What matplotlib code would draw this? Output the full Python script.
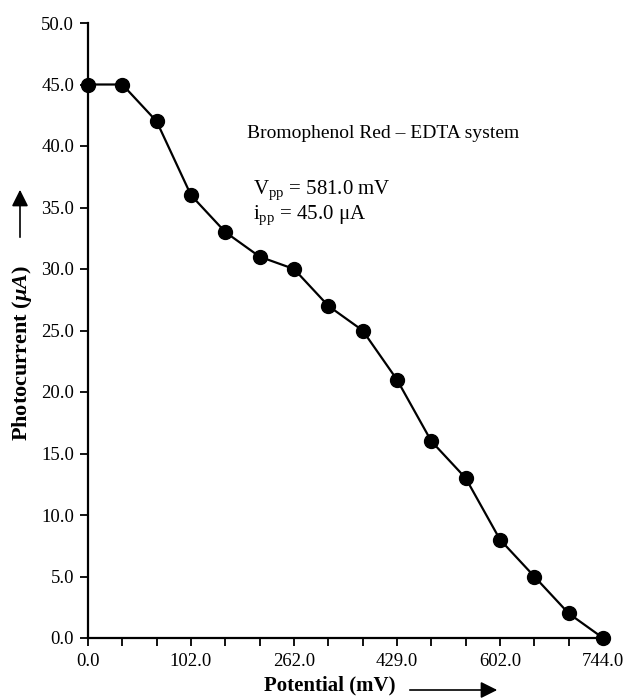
import matplotlib
matplotlib.use("Agg")
import matplotlib.pyplot as plt
from matplotlib.patches import FancyArrowPatch
import numpy as np

# photocurrent readings, one per potential step
current = [45, 45, 42, 36, 33, 31, 30, 27, 25, 21, 16, 13, 8, 5, 2, 0]
tick_labels = ["0.0", "102.0", "262.0", "429.0", "602.0", "744.0"]
y_ticks = [0, 5, 10, 15, 20, 25, 30, 35, 40, 45, 50]

plt.rcParams['font.family'] = ['Liberation Serif', 'DejaVu Serif']
plt.rcParams['mathtext.fontset'] = 'custom'
plt.rcParams['mathtext.rm'] = 'Liberation Serif'
plt.rcParams['mathtext.it'] = 'Liberation Serif:italic:bold'

fig = plt.figure(figsize=(6.23, 6.98), dpi=100)
ax = fig.add_axes([88 / 623, 1 - 638 / 698, (603 - 88) / 623, (638 - 23) / 698])

steps = np.arange(len(current))
ax.plot(steps, current, color='black', lw=1.6, marker='o', ms=10, clip_on=False, zorder=3)

ax.set_xlim(0, len(current) - 1)
ax.set_ylim(0, 50)
ax.set_xticks(steps)
ax.set_xticklabels([tick_labels[i // 3] if i % 3 == 0 else "" for i in steps])
ax.set_yticks(y_ticks)
ax.set_yticklabels(["{:.1f}".format(v) for v in y_ticks])

for s in ['top', 'right']:
    ax.spines[s].set_visible(False)
for s in ['left', 'bottom']:
    ax.spines[s].set_linewidth(1.6)
ax.tick_params(direction='out', length=6, width=1.3, labelsize=13.5, colors='black', pad=4)
ax.tick_params(axis='x', pad=5)

ax.set_xlabel("Potential (mV)", fontsize=15, fontweight='bold', va='center')
ax.set_ylabel("Photocurrent ($\\mu A$)", fontsize=16, fontweight='bold', va='center')
ax.xaxis.set_label_coords((330 - 88) / 515, (638 - 685) / 615)
ax.yaxis.set_label_coords((22 - 88) / 515, (638 - 353) / 615)

# direction arrows next to axis labels
fig.patches.append(FancyArrowPatch(
    (407 / 623, 1 - 690 / 698), (500 / 623, 1 - 690 / 698), transform=fig.transFigure,
    arrowstyle='-|>,head_length=10,head_width=5', color='black', lw=1.2, mutation_scale=1))
fig.patches.append(FancyArrowPatch(
    (20 / 623, 1 - 240 / 698), (20 / 623, 1 - 187 / 698), transform=fig.transFigure,
    arrowstyle='-|>,head_length=10,head_width=5', color='black', lw=1.2, mutation_scale=1))

fig.text(247 / 623, 1 - 133 / 698, "Bromophenol Red \u2013 EDTA system", fontsize=14, va='center')
fig.text(253 / 623, 1 - 190 / 698, "V$_{\\rm pp}$ = 581.0 mV", fontsize=15, va='center')
fig.text(253 / 623, 1 - 215 / 698, "i$_{\\rm pp}$ = 45.0 \u03bcA", fontsize=15, va='center')

fig.savefig("out.png", dpi=100)
